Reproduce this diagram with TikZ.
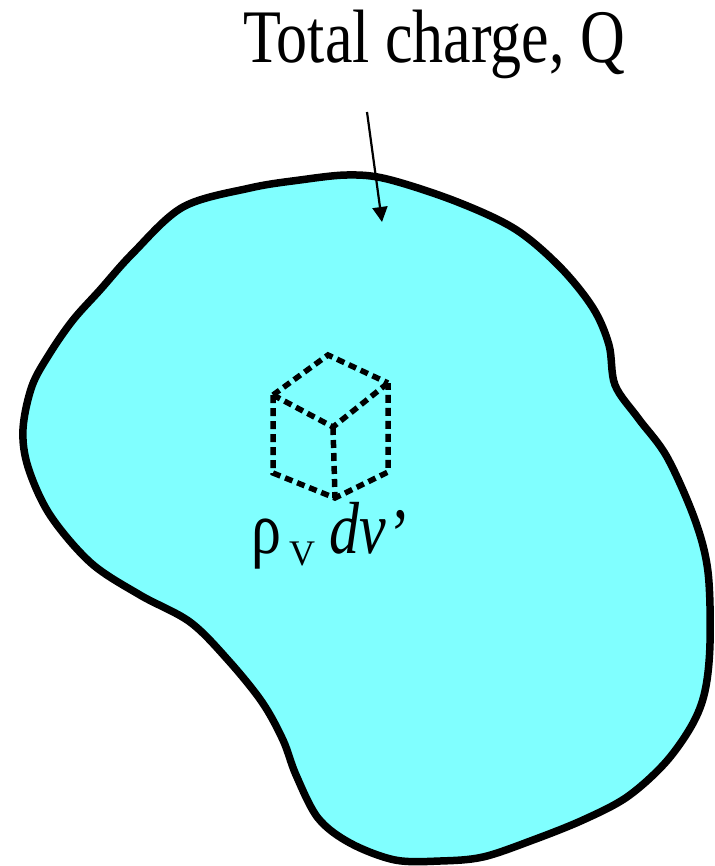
\documentclass[tikz,border=0pt]{standalone}
\usepackage{fontspec}
\setmainfont{Liberation Serif}
\usetikzlibrary{arrows.meta}
\definecolor{blobfill}{RGB}{128,255,255}
\tikzset{
  blobline/.style={draw=black, line width=7.5pt, fill=blobfill, line join=round},
  cubeedge/.style={draw=black, line width=5.5pt, dash pattern=on 8pt off 5pt},
  pointer/.style={draw=black, line width=2.2pt, -{Triangle[length=15pt,width=15pt]}}
}
\begin{document}
\begin{tikzpicture}[x=1pt,y=-1pt]
\useasboundingbox[fill=white] (0,0) rectangle (714,866);
% body
\path[blobline] plot[smooth cycle, tension=0.55] coordinates {
(183,207) (250,188) (300,180) (347,175) (387,179) (455,201) (515,229)
(560,267) (593,308) (609,345) (615,385) (638,418)
(667,457) (695,520) (708,572) (710,643) (705,691) (692,725) (665,763) (627,797)
(583,820) (533,840) (483,857) (440,861) (395,860) (350,843) (318,818)
(296,775) (283,740) (262,702) (228,660) (190,622) (140,595) (91,563)
(50,515) (28,467) (23,429) (32,386) (50,353) (73,320) (100,290) (133,253)};
% title
\node[anchor=base west, inner sep=0pt] (title) at (243,63)
  {\scalebox{1}[1.22]{\fontsize{62}{62}\selectfont Total charge, Q}};
\coordinate (ptrstart) at (367,112);
\coordinate (ptrend) at (382,222);
\draw[pointer] (ptrstart) -- (ptrend);
% cube
\coordinate (A) at (328,355);
\coordinate (B) at (273,395);
\coordinate (C) at (388,383);
\coordinate (D) at (333,427);
\coordinate (E) at (273,473);
\coordinate (F) at (335,498);
\coordinate (G) at (388,472);
\draw[cubeedge] (B) -- (A) -- (C);
\draw[cubeedge] (B) -- (D) -- (C);
\draw[cubeedge] (B) -- (E) -- (F) -- (G) -- (C);
\draw[cubeedge] (D) -- (F);
% label
\node[anchor=base west, inner sep=0pt] (lbl) at (251,553)
  {\scalebox{1}[1.23]{\fontsize{60}{60}\selectfont ρ}\hspace{8pt}\raisebox{-12pt}{\fontsize{36}{36}\selectfont V}\hspace{14pt}\scalebox{1}[1.23]{\fontsize{60}{60}\selectfont\itshape dv\/\hspace{5pt}\raisebox{-5pt}{\upshape’}}};
\end{tikzpicture}
\end{document}
